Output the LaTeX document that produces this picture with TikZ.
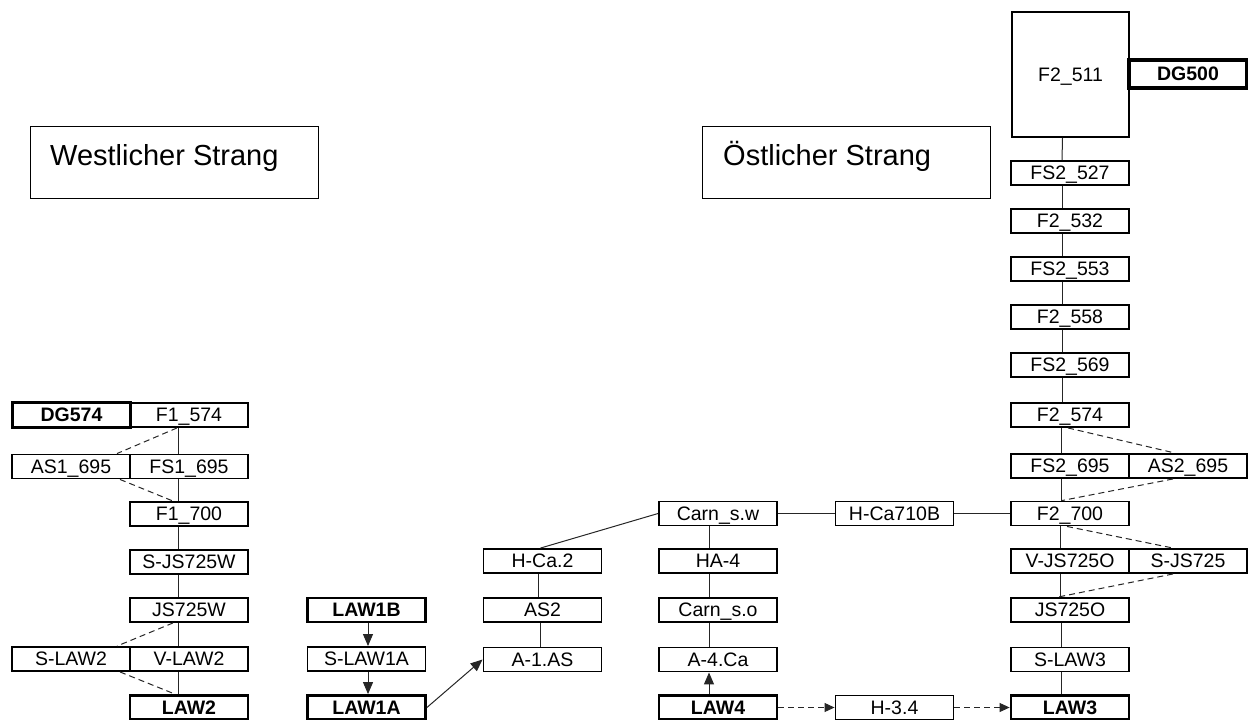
\documentclass[tikz,border=0pt]{standalone}
\usepackage{fontspec}
\setmainfont{Liberation Sans}
\usetikzlibrary{arrows.meta}
\newcommand\vlink[3]{\draw[conn] ([xshift=#3]#1.south) -- ([xshift=#3]#2.north);}
\begin{document}
\begin{tikzpicture}[x=1pt,y=-1pt,
 box/.style={draw, rectangle, line width=1.9pt, minimum width=118pt, minimum height=24pt, inner sep=0pt, text height=13.8pt, text depth=0pt, font=\fontsize{19.5}{21}\selectfont},
 boldbox/.style={box, line width=2.8pt, font=\fontsize{19.5}{21}\selectfont\bfseries},
 dgbox/.style={boldbox, line width=3.6pt},
 conn/.style={line width=1pt, black!85},
 dconn/.style={conn, dash pattern=on 6pt off 4pt},
 arr/.style={conn, -{Triangle[length=12pt,width=10pt]}},
 darr/.style={dconn, -{Triangle[length=10pt,width=9pt]}},
 titlebox/.style={draw, line width=1pt, minimum width=288pt, minimum height=72pt, inner sep=0pt},
 titletext/.style={anchor=base west, inner sep=0pt, font=\fontsize{29}{32}\selectfont}
]
\useasboundingbox (0,0) rectangle (1248,720);

% title boxes
\node[titlebox] (westbox) at (174,162) {};
\node[titletext] (westtext) at (50,165) {Westlicher Strang};
\node[titlebox] (ostbox) at (846,162.5) {};
\node[titletext] (osttext) at (723,165) {Östlicher Strang};

% western column
\node[dgbox, minimum height=25pt] (dg574) at (71.5,415) {DG574};
\node[box] (f1574) at (189,415) {F1\_574};
\node[box] (as1695) at (71,466.5) {AS1\_695};
\node[box] (fs1695) at (189,466.5) {FS1\_695};
\node[box] (f1700) at (189,514) {F1\_700};
\node[box] (sjs725w) at (189,562) {S-JS725W};
\node[box] (js725w) at (189,610) {JS725W};
\node[box] (slaw2) at (71,659) {S-LAW2};
\node[box] (vlaw2) at (189,659) {V-LAW2};
\node[boldbox] (law2) at (189,707.5) {LAW2};

% LAW1 column
\node[boldbox] (law1b) at (366.5,610) {LAW1B};
\node[box] (slaw1a) at (366.5,659) {S-LAW1A};
\node[boldbox] (law1a) at (366.5,707.5) {LAW1A};

% H-Ca.2 column
\node[box] (hca2) at (542.5,561) {H-Ca.2};
\node[box] (as2) at (542.5,610) {AS2};
\node[box] (a1as) at (542.5,659.5) {A-1.AS};

% Carn column
\node[box] (carnsw) at (718,513.5) {Carn\_s.w};
\node[box] (ha4) at (718,561) {HA-4};
\node[box] (carnso) at (718,610) {Carn\_s.o};
\node[box] (a4ca) at (718,659.5) {A-4.Ca};
\node[boldbox] (law4) at (718,707.5) {LAW4};

% H column
\node[box] (hca710b) at (894.5,513.5) {H-Ca710B};
\node[box] (h34) at (894.5,707.5) {H-3.4};

% eastern column
\node[box, minimum width=117pt, minimum height=125pt] (f2511) at (1070.5,74.5) {F2\_511};
\node[dgbox, minimum height=28pt] (dg500) at (1188,74) {DG500};
\node[box] (fs2527) at (1070,173) {FS2\_527};
\node[box] (f2532) at (1070,221) {F2\_532};
\node[box] (fs2553) at (1070,269) {FS2\_553};
\node[box] (f2558) at (1070,317) {F2\_558};
\node[box] (fs2569) at (1070,365) {FS2\_569};
\node[box] (f2574) at (1070,415) {F2\_574};
\node[box] (fs2695) at (1070,466) {FS2\_695};
\node[box] (as2695) at (1188,466) {AS2\_695};
\node[box] (f2700) at (1070,513.5) {F2\_700};
\node[box] (vjs725o) at (1070,561) {V-JS725O};
\node[box] (sjs725) at (1188,561) {S-JS725};
\node[box] (js725o) at (1070,610) {JS725O};
\node[box] (slaw3) at (1070,659.5) {S-LAW3};
\node[boldbox] (law3) at (1070,707.5) {LAW3};

% western links
\vlink{f1574}{fs1695}{-11pt}
\vlink{fs1695}{f1700}{-11pt}
\vlink{f1700}{sjs725w}{-11pt}
\vlink{sjs725w}{js725w}{-11pt}
\vlink{js725w}{vlaw2}{-11pt}
\vlink{vlaw2}{law2}{-11pt}
\draw[dconn] ([xshift=-12pt]f1574.south) -- ([xshift=46pt]as1695.north);
\draw[dconn] ([xshift=49pt]as1695.south) -- ([xshift=-16pt]f1700.north);
\draw[dconn] ([xshift=-16pt]js725w.south) -- ([xshift=46pt]slaw2.north);
\draw[dconn] ([xshift=49pt]slaw2.south) -- ([xshift=-14pt]law2.north);

% LAW1 arrows
\draw[arr] ([xshift=1.5pt]law1b.south) -- ([xshift=1.5pt]slaw1a.north);
\draw[arr] ([xshift=1.5pt]slaw1a.south) -- ([xshift=1.5pt]law1a.north);
\draw[arr] (law1a.east) -- (a1as.west);

% H-Ca.2 column
\vlink{hca2}{as2}{-4pt}
\vlink{as2}{a1as}{-2pt}
\draw[conn] ([xshift=-2pt]hca2.north) -- (carnsw.west);

% Carn column
\vlink{carnsw}{ha4}{-9pt}
\vlink{ha4}{carnso}{-9pt}
\vlink{carnso}{a4ca}{-9pt}
\draw[arr] ([xshift=-9pt]law4.north) -- ([xshift=-9pt]a4ca.south);
\draw[darr] (law4.east) -- (h34.west);
\draw[darr] (h34.east) -- (law3.west);
\draw[conn] (carnsw.east) -- (hca710b.west);
\draw[conn] (hca710b.east) -- (f2700.west);

% eastern links
\vlink{f2511}{fs2527}{-8pt}
\vlink{fs2527}{f2532}{-8pt}
\vlink{f2532}{fs2553}{-8pt}
\vlink{fs2553}{f2558}{-8pt}
\vlink{f2558}{fs2569}{-8pt}
\vlink{fs2569}{f2574}{-8pt}
\vlink{f2574}{fs2695}{-9pt}
\vlink{fs2695}{f2700}{-9pt}
\vlink{f2700}{vjs725o}{-10pt}
\vlink{vjs725o}{js725o}{-10pt}
\vlink{js725o}{slaw3}{-9pt}
\vlink{slaw3}{law3}{-9pt}
\draw[dconn] ([xshift=-2pt]f2574.south) -- ([xshift=-13pt]as2695.north);
\draw[dconn] ([xshift=-15pt]as2695.south) -- ([xshift=-8pt]f2700.north);
\draw[dconn] ([xshift=-3pt]f2700.south) -- ([xshift=-15pt]sjs725.north);
\draw[dconn] ([xshift=-15pt]sjs725.south) -- ([xshift=-12pt]js725o.north);
\end{tikzpicture}
\end{document}
